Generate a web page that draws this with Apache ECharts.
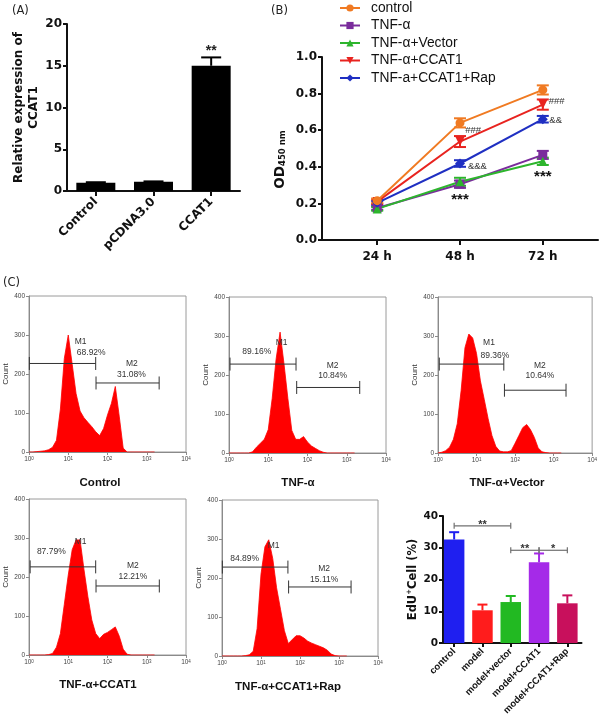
<!DOCTYPE html>
<html><head><meta charset="utf-8">
<script src="https://cdn.jsdelivr.net/npm/echarts@6/dist/echarts.min.js"></script>
<style>html,body{margin:0;padding:0;background:#fff}#c{width:600px;height:719px}</style>
</head><body><div id="c"></div>
<script>
// ---------- Panel A: relative expression ----------
const A_CATS = ['Control', 'pCDNA3.0', 'CCAT1'];
const A_VALUES = [1.0, 1.1, 15.0];
const A_ERRORS = [0.05, 0.05, 1.0];
const A_SIG = [['**', 2, 16.8]];

// ---------- Panel B: OD450 time course ----------
const B_HOURS = [24, 48, 72];
const B_HOUR_LABELS = ['24 h', '48 h', '72 h'];
const B_NAMES = ['control', 'TNF-α', 'TNF-α+Vector', 'TNF-α+CCAT1', 'TNF-a+CCAT1+Rap'];
const B_CONTROL = [0.215, 0.64, 0.82];
const B_TNF = [0.175, 0.305, 0.465];
const B_VECTOR = [0.17, 0.318, 0.43];
const B_CCAT1 = [0.21, 0.538, 0.74];
const B_RAP = [0.203, 0.418, 0.66];
const B_ERR_CONTROL = [0.012, 0.025, 0.025];
const B_ERR_TNF = [0.01, 0.02, 0.022];
const B_ERR_VECTOR = [0.01, 0.022, 0.02];
const B_ERR_CCAT1 = [0.012, 0.03, 0.028];
const B_ERR_RAP = [0.01, 0.018, 0.018];
const B_NOTES = [['###', 49.5, 0.60], ['###', 73.7, 0.756], ['&&', 73.9, 0.656], ['&&&', 50.3, 0.404]];
const B_STARS = [['***', 48, 0.222], ['***', 72, 0.345]];

// ---------- Panel C: flow cytometry histograms ----------
const FL_BINS = [1, 1.26, 1.58, 2.0, 2.51, 3.16, 3.98, 5.01, 6.31, 7.94, 10, 12.6, 15.8, 20.0, 25.1, 31.6, 39.8, 50.1, 63.1, 79.4, 100, 126, 158, 200, 251, 316, 398, 501, 631, 794, 1000, 1260, 1580];
const FL_CONTROL = [0, 0, 1, 2, 3, 6, 12, 30, 110, 240, 300, 225, 150, 105, 88, 76, 65, 52, 42, 60, 95, 125, 168, 90, 10, 0, 0, 0, 0, 0, 0, 0, 0];
const FL_TNF = [0, 0, 0, 0, 0, 0, 3, 15, 25, 35, 60, 140, 240, 310, 230, 140, 58, 35, 35, 42, 28, 18, 12, 6, 2, 0, 0, 0, 0, 0, 0, 0, 0];
const FL_VECTOR = [0, 2, 6, 15, 35, 75, 160, 270, 305, 295, 255, 185, 138, 88, 45, 17, 5, 3, 3, 6, 25, 45, 65, 73, 60, 40, 13, 3, 1, 0, 0, 0, 0];
const FL_CCAT1 = [0, 0, 0, 0, 0, 1, 4, 20, 55, 130, 205, 270, 295, 295, 220, 150, 90, 55, 42, 53, 58, 65, 72, 48, 15, 2, 0, 0, 0, 0, 0, 0, 0];
const FL_RAP = [0, 0, 0, 0, 0, 0, 1, 3, 12, 70, 210, 280, 298, 250, 175, 120, 65, 32, 42, 52, 52, 46, 38, 33, 29, 25, 21, 15, 5, 1, 0, 0, 0];
const FL_GATES_CONTROL = [[1.02, 50, 227], [51, 2070, 177]];
const FL_GATES_TNF = [[1.06, 51, 228], [53, 2140, 168]];
const FL_GATES_VECTOR = [[1.08, 51, 228], [53, 2100, 161]];
const FL_GATES_CCAT1 = [[1.07, 50, 226], [51, 2090, 177]];
const FL_GATES_RAP = [[1.02, 49, 228], [51, 2040, 177]];
const FL_LABELS_CONTROL = [['M1', 20.7, 282], ['68.92%', 38.5, 254], ['M2', 417, 226], ['31.08%', 407, 199]];
const FL_LABELS_TNF = [['M1', 22, 284], ['89.16%', 5.1, 260], ['M2', 436, 224], ['10.84%', 436, 198]];
const FL_LABELS_VECTOR = [['M1', 21, 282], ['89.36%', 30, 249], ['M2', 442, 224], ['10.64%', 442, 198]];
const FL_LABELS_CCAT1 = [['M1', 20.7, 290], ['87.79%', 3.7, 264], ['M2', 443, 229], ['12.21%', 443, 201]];
const FL_LABELS_RAP = [['M1', 21, 284], ['84.89%', 3.8, 250], ['M2', 417, 224], ['15.11%', 417, 197]];
const FL_TITLES = ['Control', 'TNF-α', 'TNF-α+Vector', 'TNF-α+CCAT1', 'TNF-α+CCAT1+Rap'];

// ---------- Panel C: EdU bar chart ----------
const C_CATS = ['control', 'model', 'model+vector', 'model+CCAT1', 'model+CCAT1+Rap'];
const C_VALUES = [32.6, 10.3, 12.9, 25.4, 12.5];
const C_ERRORS = [2.3, 1.8, 1.9, 2.8, 2.5];
const C_BRACKETS = [[0.18, 1.95, 36.9, '**'], [1.73, 2.94, 29.2, '**'], [3.0, 4.0, 29.2, '*']];

// ---------- styles ----------
const F_WIDE = '"DejaVu Sans", sans-serif';
const F_ARIAL = '"Liberation Sans", Arial, sans-serif';
const B_COLORS = ['#f07a22', '#7a2c9c', '#2db52d', '#e8231f', '#1f2fc2'];
const B_SYMBOLS = ['circle', 'rect', 'triangle', 'triangle', 'diamond'];
const B_ROT = [0, 0, 0, 180, 0];
const C_COLORS = ['#1f1ff0', '#ff1c1c', '#22b922', '#a52ae8', '#c8105c'];

const chart = echarts.init(document.getElementById('c'), null, {renderer: 'canvas', width: 600, height: 719});

function blackAxisBase() {
  return {
    axisLine: {show: true, onZero: false, lineStyle: {color: '#111', width: 2}},
    axisTick: {show: true, length: 5, lineStyle: {color: '#111', width: 2}},
    splitLine: {show: false}
  };
}

function textSeries(idx, items, st) {
  return {
    type: 'custom', xAxisIndex: idx, yAxisIndex: idx, silent: true, z: 20,
    data: items.map(d => [d[1], d[2]]),
    renderItem: (params, api) => {
      const it = items[params.dataIndex];
      const p = api.coord([api.value(0), api.value(1)]);
      return {type: 'text', x: p[0], y: p[1], style: {
        text: it[0], fontSize: st.size, fontWeight: st.weight || 'normal', fill: st.color || '#222',
        align: st.align || 'center', verticalAlign: 'middle', fontFamily: st.font || F_ARIAL}};
    }
  };
}

function errorSeries(idx, data, st) {
  // data: [x, mean, err, colorIndex]
  return {
    type: 'custom', xAxisIndex: idx, yAxisIndex: idx, silent: true, z: st.z || 5,
    data: data,
    renderItem: (params, api) => {
      const x = api.value(0), m = api.value(1), e = api.value(2);
      const color = st.colors[api.value(3)];
      const top = api.coord([x, m + e]);
      const bot = api.coord([x, st.both ? m - e : m]);
      const hw = st.cap;
      const ls = {stroke: color, lineWidth: st.width};
      const ch = [
        {type: 'line', shape: {x1: top[0], y1: top[1], x2: bot[0], y2: bot[1]}, style: ls},
        {type: 'line', shape: {x1: top[0] - hw, y1: top[1], x2: top[0] + hw, y2: top[1]}, style: ls}
      ];
      if (st.both) ch.push({type: 'line', shape: {x1: bot[0] - hw, y1: bot[1], x2: bot[0] + hw, y2: bot[1]}, style: ls});
      return {type: 'group', children: ch};
    }
  };
}

const FLOW_GRIDS = [
  {left: 29, top: 296, width: 157, height: 156},
  {left: 229, top: 297, width: 157, height: 156},
  {left: 438, top: 297, width: 156, height: 156},
  {left: 29, top: 499, width: 157, height: 156},
  {left: 222, top: 500, width: 156, height: 156}
];
const FLOW_DATA = [
  [FL_CONTROL, FL_GATES_CONTROL, FL_LABELS_CONTROL],
  [FL_TNF, FL_GATES_TNF, FL_LABELS_TNF],
  [FL_VECTOR, FL_GATES_VECTOR, FL_LABELS_VECTOR],
  [FL_CCAT1, FL_GATES_CCAT1, FL_LABELS_CCAT1],
  [FL_RAP, FL_GATES_RAP, FL_LABELS_RAP]
];
const FLOW_TITLE_POS = [[100, 483], [298, 483], [507, 483], [98, 685], [288, 687]];

const grids = [
  {left: 67, top: 24, width: 173, height: 167},
  {left: 322, top: 57, width: 276, height: 183}
].concat(FLOW_GRIDS.map(g => Object.assign({show: true, borderColor: '#9a9a9a', borderWidth: 1, backgroundColor: 'rgba(0,0,0,0)'}, g)))
 .concat([{left: 440, top: 516, width: 141.5, height: 127}]);

const xAxes = [];
const yAxes = [];
// A
xAxes.push(Object.assign(blackAxisBase(), {
  type: 'category', gridIndex: 0, data: A_CATS,
  axisTick: {show: true, alignWithLabel: true, length: 5, lineStyle: {color: '#111', width: 2}},
  axisLabel: {interval: 0, rotate: 45, margin: 9, fontSize: 12, fontWeight: 'bold', color: '#111', fontFamily: F_WIDE}
}));
yAxes.push(Object.assign(blackAxisBase(), {
  type: 'value', gridIndex: 0, min: 0, max: 20, interval: 5,
  axisTick: {show: true, length: 4, lineStyle: {color: '#111', width: 2}},
  axisLabel: {margin: 5, fontSize: 12, fontWeight: 'bold', color: '#111', fontFamily: F_WIDE},
  name: 'Relative expression of\nCCAT1', nameLocation: 'middle', nameGap: 24,
  nameTextStyle: {fontSize: 12, fontWeight: 'bold', color: '#111', fontFamily: F_WIDE, align: 'center', lineHeight: 15}
}));
// B
xAxes.push(Object.assign(blackAxisBase(), {
  type: 'value', gridIndex: 1, min: 8, max: 88,
  axisTick: {show: true, length: 5, customValues: B_HOURS, lineStyle: {color: '#111', width: 2}},
  axisLabel: {customValues: B_HOURS, margin: 11, fontSize: 12, fontWeight: 'bold', color: '#111', fontFamily: F_WIDE,
    formatter: v => B_HOUR_LABELS[B_HOURS.indexOf(v)] || ''}
}));
yAxes.push(Object.assign(blackAxisBase(), {
  type: 'value', gridIndex: 1, min: 0, max: 1, interval: 0.2,
  axisTick: {show: true, length: 4, lineStyle: {color: '#111', width: 2}},
  axisLabel: {margin: 5, fontSize: 12, fontWeight: 'bold', color: '#111', fontFamily: F_WIDE, formatter: v => v.toFixed(1)},
  name: '{a|OD}{b|450 nm}', nameLocation: 'middle', nameGap: 35,
  nameTextStyle: {color: '#111', fontFamily: F_WIDE, padding: [0, 22, 0, 0], rich: {
    a: {fontSize: 13.5, fontWeight: 'bold', color: '#111', fontFamily: F_WIDE, verticalAlign: 'bottom', lineHeight: 16},
    b: {fontSize: 8.5, fontWeight: 'bold', color: '#111', fontFamily: F_WIDE, verticalAlign: 'bottom', lineHeight: 6}}}
}));
// Flow
FLOW_GRIDS.forEach((g, i) => {
  const gi = i + 2;
  xAxes.push({
    type: 'log', logBase: 10, gridIndex: gi, min: 1, max: 10000,
    axisLine: {show: true, onZero: false, lineStyle: {color: '#8a8a8a', width: 1}},
    axisTick: {show: true, length: 3, lineStyle: {color: '#8a8a8a'}},
    minorTick: {show: false}, splitLine: {show: false},
    axisLabel: {fontSize: 6.5, color: '#444', margin: 4, fontFamily: F_ARIAL,
      formatter: v => '10{s|' + Math.round(Math.log10(v)) + '}',
      rich: {s: {fontSize: 4.5, color: '#444', verticalAlign: 'top', lineHeight: 5, fontFamily: F_ARIAL}}}
  });
  yAxes.push({
    type: 'value', gridIndex: gi, min: 0, max: 400, interval: 100,
    name: 'Count', nameLocation: 'middle', nameGap: 19,
    nameTextStyle: {fontSize: 8, color: '#333', fontFamily: F_ARIAL},
    axisLine: {show: true, onZero: false, lineStyle: {color: '#8a8a8a', width: 1}},
    axisTick: {show: true, length: 3, lineStyle: {color: '#8a8a8a'}},
    splitLine: {show: false},
    axisLabel: {fontSize: 6.5, color: '#444', margin: 4, fontFamily: F_ARIAL}
  });
});
// EdU
xAxes.push(Object.assign(blackAxisBase(), {
  type: 'category', gridIndex: 7, data: C_CATS,
  axisTick: {show: true, alignWithLabel: true, length: 4, lineStyle: {color: '#111', width: 2}},
  axisLabel: {interval: 0, rotate: 45, margin: 7, fontSize: 9.5, fontWeight: 'bold', color: '#111', fontFamily: F_ARIAL}
}));
yAxes.push(Object.assign(blackAxisBase(), {
  type: 'value', gridIndex: 7, min: 0, max: 40, interval: 10, offset: -3,
  axisTick: {show: true, length: 4, lineStyle: {color: '#111', width: 2}},
  axisLabel: {margin: 5, fontSize: 10.5, fontWeight: 'bold', color: '#111', fontFamily: F_WIDE},
  name: '{a|EdU}{s|+}{a|Cell (%)}', nameLocation: 'middle', nameGap: 23,
  nameTextStyle: {color: '#111', fontFamily: F_WIDE, rich: {
    a: {fontSize: 11.5, fontWeight: 'bold', color: '#111', fontFamily: F_WIDE, lineHeight: 14},
    s: {fontSize: 7, fontWeight: 'bold', color: '#111', fontFamily: F_WIDE, verticalAlign: 'top', lineHeight: 6}}}
}));

const series = [];
// A bars
series.push({type: 'bar', xAxisIndex: 0, yAxisIndex: 0, data: A_VALUES, barWidth: 39, itemStyle: {color: '#000'}, silent: true});
series.push(errorSeries(0, A_VALUES.map((v, i) => [i, v, A_ERRORS[i], 0]), {colors: ['#000'], cap: 10, width: 2, both: false, z: 6}));
series.push(textSeries(0, A_SIG, {size: 14, weight: 'bold', color: '#222'}));

// B lines
const B_SERIES = [B_CONTROL, B_TNF, B_VECTOR, B_CCAT1, B_RAP];
const B_ERRS = [B_ERR_CONTROL, B_ERR_TNF, B_ERR_VECTOR, B_ERR_CCAT1, B_ERR_RAP];
const B_DRAW_ORDER = [1, 2, 4, 3, 0];
B_DRAW_ORDER.forEach(k => {
  series.push(errorSeries(1, B_HOURS.map((h, i) => [h, B_SERIES[k][i], B_ERRS[k][i], k]), {colors: B_COLORS, cap: 6, width: 2, both: true, z: 3}));
});
B_NAMES.forEach((nm, k) => {
  series.push({
    type: 'line', name: nm, xAxisIndex: 1, yAxisIndex: 1,
    data: B_HOURS.map((h, i) => [h, B_SERIES[k][i]]),
    symbol: B_SYMBOLS[k], symbolRotate: B_ROT[k], symbolSize: k === 4 ? 10 : 9,
    lineStyle: {color: B_COLORS[k], width: 2}, itemStyle: {color: B_COLORS[k], borderWidth: 0},
    z: 4 + (k === 0 ? 1 : 0), silent: true
  });
});
series.push(textSeries(1, B_NOTES, {size: 9.5, color: '#333', align: 'left'}));
series.push(textSeries(1, B_STARS, {size: 15, weight: 'bold', color: '#111', align: 'center'}));

// Flow
FLOW_DATA.forEach((fd, i) => {
  const gi = i + 2;
  series.push({
    type: 'line', xAxisIndex: gi, yAxisIndex: gi, silent: true, symbol: 'none',
    data: FL_BINS.map((b, j) => [b, fd[0][j]]),
    lineStyle: {color: '#ff0000', width: 0.8}, areaStyle: {color: '#ff0000', opacity: 1}, z: 2
  });
  const gates = fd[1];
  series.push({
    type: 'custom', xAxisIndex: gi, yAxisIndex: gi, silent: true, z: 10,
    data: gates,
    renderItem: (params, api) => {
      const p1 = api.coord([api.value(0), api.value(2)]);
      const p2 = api.coord([api.value(1), api.value(2)]);
      const h = 6.5;
      const st = {stroke: '#333', lineWidth: 1};
      return {type: 'group', children: [
        {type: 'line', shape: {x1: p1[0], y1: p1[1], x2: p2[0], y2: p2[1]}, style: st},
        {type: 'line', shape: {x1: p1[0], y1: p1[1] - h, x2: p1[0], y2: p1[1] + h}, style: st},
        {type: 'line', shape: {x1: p2[0], y1: p2[1] - h, x2: p2[0], y2: p2[1] + h}, style: st}
      ]};
    }
  });
  series.push(textSeries(gi, fd[2], {size: 8.5, color: '#333', font: F_ARIAL}));
});

// EdU bars
series.push({
  type: 'bar', xAxisIndex: 7, yAxisIndex: 7, barWidth: 20.5, silent: true,
  data: C_VALUES.map((v, i) => ({value: v, itemStyle: {color: C_COLORS[i]}}))
});
series.push(errorSeries(7, C_VALUES.map((v, i) => [i, v, C_ERRORS[i], i]), {colors: C_COLORS, cap: 5, width: 2, both: false, z: 6}));
series.push({
  type: 'custom', xAxisIndex: 7, yAxisIndex: 7, silent: true, z: 10,
  data: C_BRACKETS.map(b => [b[0], b[1], b[2]]),
  renderItem: (params, api) => {
    const p1 = api.coord([api.value(0), api.value(2)]);
    const p2 = api.coord([api.value(1), api.value(2)]);
    const st = {stroke: '#707070', lineWidth: 1.2};
    return {type: 'group', children: [
      {type: 'line', shape: {x1: p1[0], y1: p1[1], x2: p2[0], y2: p2[1]}, style: st},
      {type: 'line', shape: {x1: p1[0], y1: p1[1] - 3, x2: p1[0], y2: p1[1] + 3}, style: st},
      {type: 'line', shape: {x1: p2[0], y1: p2[1] - 3, x2: p2[0], y2: p2[1] + 3}, style: st},
      {type: 'text', x: (p1[0] + p2[0]) / 2, y: p1[1] - 1, style: {text: C_BRACKETS[params.dataIndex][3], fontSize: 11, fontWeight: 'bold', fill: '#333', align: 'center', verticalAlign: 'middle', fontFamily: F_ARIAL}}
    ]};
  }
});

const graphics = [
  {type: 'text', left: 12, top: 5, style: {text: '(A)', fontSize: 11.5, fill: '#222', fontFamily: F_WIDE}},
  {type: 'text', left: 271, top: 5, style: {text: '(B)', fontSize: 11.5, fill: '#222', fontFamily: F_WIDE}},
  {type: 'text', left: 3, top: 277, style: {text: '(C)', fontSize: 11.5, fill: '#222', fontFamily: F_WIDE}}
];
FL_TITLES.forEach((t, i) => {
  graphics.push({type: 'text', x: FLOW_TITLE_POS[i][0], y: FLOW_TITLE_POS[i][1],
    style: {text: t, fontSize: 11.5, fontWeight: 'bold', fill: '#111', align: 'center', verticalAlign: 'middle', fontFamily: F_ARIAL}});
});

chart.setOption({
  animation: false,
  backgroundColor: '#ffffff',
  textStyle: {fontFamily: F_ARIAL},
  grid: grids,
  xAxis: xAxes,
  yAxis: yAxes,
  legend: {
    show: true, data: B_NAMES, orient: 'vertical', left: 339, top: 1, padding: 0, itemGap: 3.5,
    itemWidth: 20, itemHeight: 9,
    textStyle: {fontSize: 13.8, color: '#111', fontFamily: F_ARIAL, padding: [0, 0, 0, 6]}
  },
  graphic: graphics,
  series: series
});
</script>
</body></html>
